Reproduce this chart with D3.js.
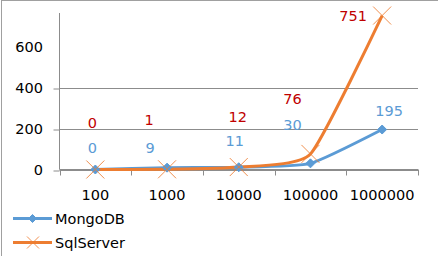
<!DOCTYPE html>
<html>
<head>
<meta charset="utf-8">
<script src="https://cdn.jsdelivr.net/npm/d3@7"></script>
<style>
html,body{margin:0;padding:0;background:#fff;}
svg{display:block;}
text{font-family:"DejaVu Sans",sans-serif;}
</style>
</head>
<body>
<script>
const categories = ["100", "1000", "10000", "100000", "1000000"];
const mongoValues = [0, 9, 11, 30, 195];
const sqlValues = [0, 1, 12, 76, 751];
const mongoLabels = ["0", "9", "11", "30", "195"];
const sqlLabels = ["0", "1", "12", "76", "751"];
const yTicks = [0, 200, 400, 600];
const yGridTicks = [0, 200, 400];
const seriesNames = ["MongoDB", "SqlServer"];

// label nudges (layout, px) relative to each point
const mongoNudge = [[-3,-22],[-17,-20],[-4,-26],[-18,-39],[7,-19]];
const sqlNudge = [[-3,-47],[-18,-50],[-1,-50],[-18,-55],[-29,0]];

const W = 438, H = 256;
const svg = d3.select("body").append("svg").attr("width", W).attr("height", H);
svg.append("rect").attr("width", W).attr("height", H).attr("fill", "#fff");
// chart border (top/left visible)
svg.append("rect").attr("x", 1.5).attr("y", 0.5).attr("width", W + 10).attr("height", H + 10)
  .attr("fill", "none").attr("stroke", "#a0a0a0").attr("stroke-width", 1);

const x = d3.scaleBand().domain(categories).range([59.5, 418]);
const y = d3.scaleLinear().domain([0, 760]).range([169.5, 13.7]);
const cx = d => x(d) + x.bandwidth() / 2;

const fs = "14.5px";
const gridColor = "#8c8c8c";

// gridlines
svg.append("g").selectAll("line").data(yGridTicks).join("line")
  .attr("x1", 59.5).attr("x2", 418).attr("y1", d => Math.round(y(d)) + 0.5).attr("y2", d => Math.round(y(d)) + 0.5)
  .attr("stroke", gridColor).attr("stroke-width", 1);

// y axis
const yAxis = svg.append("g").attr("transform", "translate(59.5,0)")
  .call(d3.axisLeft(y).tickValues(yGridTicks).tickSize(6).tickFormat(""));
yAxis.select(".domain").remove();
yAxis.selectAll("line").attr("stroke", gridColor).attr("transform", d => `translate(0,${Math.round(y(d)) + 0.5 - y(d)})`);
svg.append("line").attr("x1", 59.5).attr("x2", 59.5).attr("y1", 13).attr("y2", 169.5)
  .attr("stroke", gridColor);
svg.append("g").selectAll("text").data(yTicks).join("text")
  .attr("x", 43).attr("y", d => y(d)).attr("dy", "0.36em").attr("text-anchor", "end")
  .attr("font-size", fs).attr("fill", "#000").text(d => d);

// x axis
const xAxis = svg.append("g").attr("transform", "translate(0,169.5)")
  .call(d3.axisBottom(x).tickSize(0).tickFormat(""));
xAxis.select(".domain").attr("stroke", gridColor).attr("d", "M59.5,0H418");
svg.append("g").selectAll("line").data(d3.range(categories.length + 1)).join("line")
  .attr("x1", i => Math.round(59.5 + i * x.bandwidth()) + 0.5)
  .attr("x2", i => Math.round(59.5 + i * x.bandwidth()) + 0.5)
  .attr("y1", 169.5).attr("y2", 175.5).attr("stroke", gridColor);
svg.append("g").selectAll("text").data(categories).join("text")
  .attr("x", d => cx(d)).attr("y", 195).attr("dy", "0.36em").attr("text-anchor", "middle")
  .attr("font-size", fs).attr("fill", "#000").text(d => d);

const blue = "#5b9bd5", orange = "#ed7d31";
const line = d3.line().x((d, i) => cx(categories[i])).y(d => y(d)).curve(d3.curveCardinal.tension(0.5));

svg.append("path").datum(mongoValues).attr("d", line).attr("fill", "none")
  .attr("stroke", blue).attr("stroke-width", 3).attr("stroke-linejoin", "round");
svg.append("path").datum(sqlValues).attr("d", line).attr("fill", "none")
  .attr("stroke", orange).attr("stroke-width", 3).attr("stroke-linejoin", "round");

function diamond(g, px, py, r) {
  g.append("path").attr("d", `M${px},${py - r}L${px + r},${py}L${px},${py + r}L${px - r},${py}Z`)
    .attr("fill", blue).attr("stroke", blue).attr("stroke-width", 1);
}
function cross(g, px, py, r) {
  g.append("path").attr("d", `M${px - r},${py - r}L${px + r},${py + r}M${px - r},${py + r}L${px + r},${py - r}`)
    .attr("fill", "none").attr("stroke", orange).attr("stroke-width", 1).attr("opacity", 0.85);
}
const mk = svg.append("g");
mongoValues.forEach((v, i) => diamond(mk, cx(categories[i]), y(v), 4.5));
sqlValues.forEach((v, i) => cross(mk, cx(categories[i]), y(v), 9));

// data labels
svg.append("g").selectAll("text").data(mongoValues).join("text")
  .attr("x", (d, i) => cx(categories[i]) + mongoNudge[i][0])
  .attr("y", (d, i) => y(d) + mongoNudge[i][1]).attr("dy", "0.36em")
  .attr("text-anchor", "middle").attr("font-size", fs).attr("fill", blue)
  .text((d, i) => mongoLabels[i]);
svg.append("g").selectAll("text").data(sqlValues).join("text")
  .attr("x", (d, i) => cx(categories[i]) + sqlNudge[i][0])
  .attr("y", (d, i) => y(d) + sqlNudge[i][1]).attr("dy", "0.36em")
  .attr("text-anchor", "middle").attr("font-size", fs).attr("fill", "#c00000")
  .text((d, i) => sqlLabels[i]);

// legend
const lg = svg.append("g");
const ly = [218.5, 242.5];
const colors = [blue, orange];
seriesNames.forEach((name, i) => {
  lg.append("line").attr("x1", 13).attr("x2", 52).attr("y1", ly[i]).attr("y2", ly[i])
    .attr("stroke", colors[i]).attr("stroke-width", 3);
  if (i === 0) diamond(lg, 32.5, ly[i], 4);
  else cross(lg, 33, ly[i], 6);
  lg.append("text").attr("x", 55).attr("y", ly[i]).attr("dy", "0.36em")
    .attr("font-size", fs).attr("fill", "#000").text(name);
});
</script>
</body>
</html>
